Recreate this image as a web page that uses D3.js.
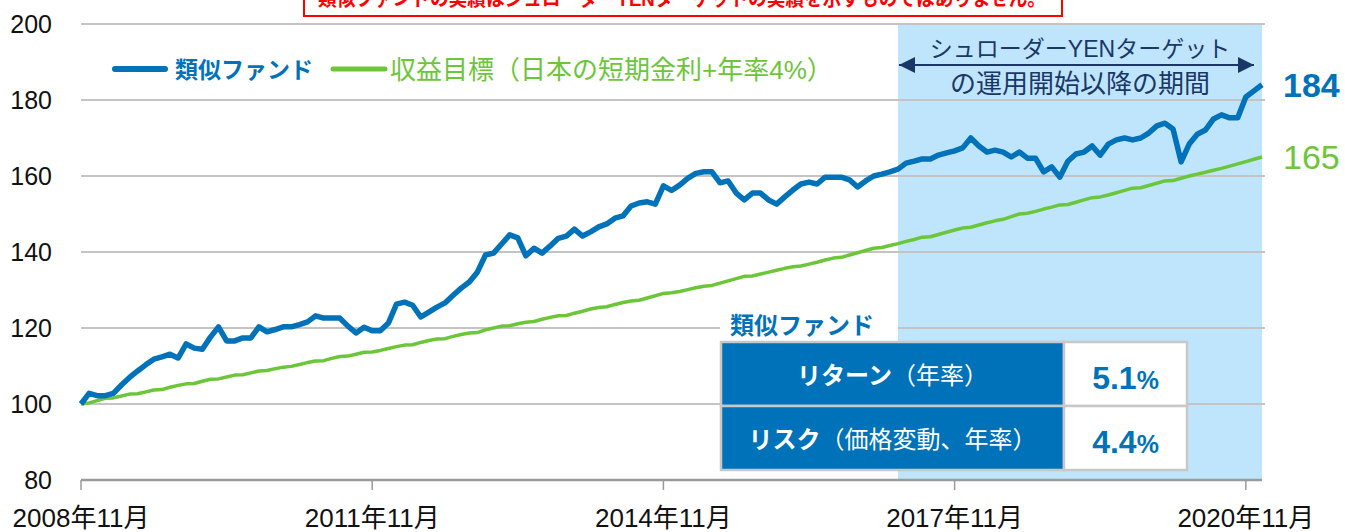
<!DOCTYPE html>
<html>
<head>
<meta charset="utf-8">
<script src="https://cdn.jsdelivr.net/npm/d3@7"></script>
<style>
body { margin: 0; background: #fff; }
svg { display: block; font-family: "Liberation Sans", Arial, "Noto Sans CJK JP", sans-serif; }
</style>
</head>
<body>
<svg id="chart" width="1345" height="532"></svg>
<script>
// monthly index values, 2008年11月 = 100
const fundValues = [
  100, 102.8, 102.2, 102.2, 102.8, 105, 107, 108.7, 110.3, 111.8, 112.4, 113.1,
  112.1, 115.8, 114.7, 114.4, 117.6, 120.3, 116.6, 116.6, 117.4, 117.4, 120.3, 119,
  119.6, 120.3, 120.3, 120.9, 121.6, 123.2, 122.6, 122.6, 122.6, 120.5, 118.7, 120.2,
  119.3, 119.3, 121.3, 126.3, 126.8, 126, 122.9, 124.2, 125.5, 126.6, 128.6, 130.5,
  132.1, 134.7, 139.2, 139.7, 142.1, 144.5, 143.7, 139, 141, 139.7, 141.6, 143.6,
  144.2, 146, 144.2, 145.3, 146.6, 147.4, 148.9, 149.5, 152.1, 152.9, 153.2, 152.6,
  157.4, 156.2, 157.6, 159.4, 160.7, 161.1, 161.1, 158.2, 158.7, 155.5, 153.7, 155.5,
  155.5, 153.7, 152.6, 154.5, 156.3, 157.9, 158.4, 157.9, 159.7, 159.7, 159.7, 159,
  157.1, 158.7, 160, 160.5, 161.1, 161.8, 163.4, 163.9, 164.5, 164.5, 165.5, 166.1,
  166.6, 167.4, 170, 167.9, 166.3, 166.8, 166.3, 165, 166.3, 164.7, 164.7, 161.1,
  162.4, 159.7, 163.9, 165.8, 166.3, 167.9, 165.5, 168.4, 169.5, 170, 169.5, 170,
  171.3, 173.2, 173.9, 172.4, 163.7, 168.4, 171, 172.1, 175, 176.1, 175.3, 175.3,
  180.8, 182.4, 184
];
const targetValues = [
  100, 100.3, 100.9, 101.5, 101.6, 102.1, 102.6, 102.7, 103.2, 103.7, 103.8, 104.4,
  104.9, 105.3, 105.4, 106, 106.5, 106.6, 107.1, 107.6, 107.7, 108.2, 108.7, 108.8,
  109.3, 109.7, 109.9, 110.4, 110.9, 111.3, 111.4, 112, 112.5, 112.6, 113.1, 113.6,
  113.7, 114.1, 114.6, 115.1, 115.5, 115.6, 116.2, 116.7, 117.1, 117.2, 117.8, 118.3,
  118.7, 118.8, 119.5, 120, 120.5, 120.6, 121.1, 121.5, 121.7, 122.3, 122.8, 123.2,
  123.3, 123.9, 124.4, 125, 125.4, 125.6, 126.2, 126.7, 127.1, 127.3, 127.9, 128.5,
  129.1, 129.3, 129.6, 130.1, 130.6, 131, 131.2, 131.8, 132.4, 133, 133.6, 133.7,
  134.2, 134.7, 135.2, 135.7, 136.1, 136.3, 136.8, 137.3, 137.9, 138.4, 138.6, 139.2,
  139.8, 140.4, 141, 141.2, 141.7, 142.2, 142.8, 143.3, 143.9, 144, 144.6, 145.2,
  145.8, 146.3, 146.5, 147.1, 147.7, 148.2, 148.6, 149.3, 150, 150.2, 150.7, 151.3,
  151.8, 152.4, 152.5, 153.1, 153.7, 154.3, 154.5, 155, 155.6, 156.2, 156.8, 156.9,
  157.5, 158.1, 158.7, 158.8, 159.4, 160, 160.5, 161, 161.5, 162, 162.6, 163.2,
  163.8, 164.4, 165
];
const tickMonths = [0, 36, 72, 108, 144];
const tickLabels = ["2008年11月", "2011年11月", "2014年11月", "2017年11月", "2020年11月"];
const yTicks = [80, 100, 120, 140, 160, 180, 200];
const shadeFromMonth = 101; // シュローダーYENターゲット運用開始
const seriesNames = ["類似ファンド", "収益目標（日本の短期金利+年率4%）"];
const statNames = [["リターン", "（年率）"], ["リスク", "（価格変動、年率）"]];
const statValues = ["5.1", "4.4"];
const noticeText = "類似ファンドの実績はシュローダーYENターゲットの実績を示すものではありません。";

const BLUE = "#0072B9", GREEN = "#6CC63A", NAVY = "#1B3768",
      SHADE = "#BFE5FC", GRID = "#C4C4C4";

const svg = d3.select("#chart");
const plot = { left: 81, right: 1262, top: 24, bottom: 480 };

const x = d3.scaleLinear()
    .domain([0, fundValues.length - 1])
    .range([plot.left, plot.right]);
const y = d3.scaleLinear()
    .domain([80, 200])
    .range([plot.bottom, plot.top]);

// shaded period
// ----------------------------------------
svg.append("rect")
    .attr("x", x(shadeFromMonth))
    .attr("y", y(200))
    .attr("width", x(fundValues.length - 1) - x(shadeFromMonth))
    .attr("height", y(80) - y(200))
    .attr("fill", SHADE);

// grid + axes
// ----------------------------------------
svg.append("g")
    .selectAll("line")
    .data(yTicks.filter(d => d > 80))
    .join("line")
    .attr("x1", plot.left)
    .attr("x2", plot.right + 3)
    .attr("y1", d => y(d))
    .attr("y2", d => y(d))
    .attr("stroke", GRID)
    .attr("stroke-width", 2);

svg.append("g")
    .selectAll("text")
    .data(yTicks)
    .join("text")
    .attr("x", 52)
    .attr("y", d => y(d) + 9)
    .attr("text-anchor", "end")
    .attr("font-size", 25)
    .attr("fill", "#111")
    .text(d => d);

svg.append("line")
    .attr("x1", plot.left).attr("x2", plot.right)
    .attr("y1", y(80)).attr("y2", y(80))
    .attr("stroke", "#9A9A9A")
    .attr("stroke-width", 2.5);

const xt = svg.append("g")
    .selectAll("g")
    .data(tickMonths)
    .join("g")
    .attr("transform", d => `translate(${x(d)},${y(80)})`);
xt.append("line")
    .attr("y2", 10)
    .attr("stroke", "#9A9A9A")
    .attr("stroke-width", 1.5);
xt.append("text")
    .attr("y", 47)
    .attr("text-anchor", "middle")
    .attr("font-size", 26)
    .attr("fill", "#111")
    .text((d, i) => tickLabels[i]);

// lines
// ----------------------------------------
const line = d3.line()
    .x((d, i) => x(i))
    .y(d => y(d));

svg.append("path")
    .datum(targetValues)
    .attr("fill", "none")
    .attr("stroke", GREEN)
    .attr("stroke-width", 3.5)
    .attr("stroke-linejoin", "round")
    .attr("d", line);

svg.append("path")
    .datum(fundValues)
    .attr("fill", "none")
    .attr("stroke", BLUE)
    .attr("stroke-width", 5.5)
    .attr("stroke-linejoin", "round")
    .attr("d", line);

// end labels
const last = fundValues.length - 1;
svg.append("text")
    .attr("x", 1283).attr("y", y(fundValues[last]) + 12)
    .attr("font-size", 34).attr("font-weight", "bold")
    .attr("fill", BLUE)
    .text(Math.round(fundValues[last]));
svg.append("text")
    .attr("x", 1283).attr("y", y(targetValues[last]) + 12)
    .attr("font-size", 34)
    .attr("fill", GREEN)
    .text(Math.round(targetValues[last]));

// legend
// ----------------------------------------
const legend = svg.append("g").attr("transform", "translate(115,69)");
legend.append("line")
    .attr("x1", 0).attr("x2", 50)
    .attr("stroke", BLUE).attr("stroke-width", 6)
    .attr("stroke-linecap", "round");
legend.append("text")
    .attr("x", 60).attr("y", 9)
    .attr("font-size", 23).attr("font-weight", "bold")
    .attr("fill", BLUE)
    .text(seriesNames[0]);
legend.append("line")
    .attr("x1", 218).attr("x2", 270)
    .attr("stroke", GREEN).attr("stroke-width", 5)
    .attr("stroke-linecap", "round");
legend.append("text")
    .attr("x", 275).attr("y", 10)
    .attr("font-size", 26)
    .attr("fill", GREEN)
    .text(seriesNames[1]);

// period annotation
// ----------------------------------------
svg.append("defs").selectAll("marker")
    .data(["arrowEnd", "arrowStart"])
    .join("marker")
    .attr("id", d => d)
    .attr("viewBox", "0 0 10 10")
    .attr("refX", 10).attr("refY", 5)
    .attr("markerWidth", 16).attr("markerHeight", 16)
    .attr("markerUnits", "userSpaceOnUse")
    .attr("orient", d => d === "arrowEnd" ? "auto" : "auto-start-reverse")
    .append("path")
    .attr("d", "M0,0L10,5L0,10Z")
    .attr("fill", NAVY);

const annX = (x(shadeFromMonth) + x(last)) / 2;
svg.append("line")
    .attr("x1", x(shadeFromMonth) + 1).attr("x2", x(last) - 8)
    .attr("y1", 65).attr("y2", 65)
    .attr("stroke", NAVY).attr("stroke-width", 2)
    .attr("marker-start", "url(#arrowStart)")
    .attr("marker-end", "url(#arrowEnd)");
svg.append("rect")
    .attr("x", annX - 145).attr("y", 36)
    .attr("width", 290).attr("height", 24)
    .attr("fill", SHADE);
svg.append("text")
    .attr("x", annX).attr("y", 57)
    .attr("text-anchor", "middle")
    .attr("font-size", 23).attr("fill", NAVY)
    .text("シュローダーYENターゲット");
svg.append("text")
    .attr("x", annX).attr("y", 93)
    .attr("text-anchor", "middle")
    .attr("font-size", 26).attr("fill", NAVY)
    .text("の運用開始以降の期間");

// stats table
// ----------------------------------------
const tbl = { x: 721, y: 342, w1: 343, w2: 123, rowH: 64 };
svg.append("rect")
    .attr("x", tbl.x - 1).attr("y", 311)
    .attr("width", x(shadeFromMonth) - tbl.x + 1).attr("height", 30)
    .attr("fill", "#fff");
svg.append("text")
    .attr("x", 730).attr("y", 334)
    .attr("font-size", 24).attr("font-weight", "bold")
    .attr("fill", BLUE)
    .text(seriesNames[0]);

const rows = svg.append("g")
    .selectAll("g")
    .data(statNames)
    .join("g")
    .attr("transform", (d, i) => `translate(${tbl.x},${tbl.y + i * tbl.rowH})`);
rows.append("rect")
    .attr("width", tbl.w1).attr("height", tbl.rowH)
    .attr("fill", BLUE)
    .attr("stroke", "#C8C8C8").attr("stroke-width", 2.5);
rows.append("rect")
    .attr("x", tbl.w1)
    .attr("width", tbl.w2).attr("height", tbl.rowH)
    .attr("fill", "#fff")
    .attr("stroke", "#C8C8C8").attr("stroke-width", 2.5);
const lbl = rows.append("text")
    .attr("x", tbl.w1 / 2).attr("y", 42)
    .attr("text-anchor", "middle")
    .attr("font-size", 24)
    .attr("fill", "#fff");
lbl.append("tspan").attr("font-weight", "bold").text(d => d[0]);
lbl.append("tspan").text(d => d[1]);
const val = rows.append("text")
    .attr("x", tbl.w1 + tbl.w2 / 2).attr("y", 47)
    .attr("text-anchor", "middle")
    .attr("font-weight", "bold")
    .attr("fill", BLUE);
val.append("tspan").attr("font-size", 32).text((d, i) => statValues[i]);
val.append("tspan").attr("font-size", 25).text("%");

// notice banner (clipped at top)
// ----------------------------------------
svg.append("rect")
    .attr("x", 304).attr("y", -10)
    .attr("width", 758).attr("height", 26)
    .attr("fill", "#fff")
    .attr("stroke", "#FF0000").attr("stroke-width", 2);
svg.append("text")
    .attr("x", 318).attr("y", 6)
    .attr("font-size", 20).attr("font-weight", "bold")
    .attr("fill", "#FF0000")
    .attr("textLength", 728)
    .attr("lengthAdjust", "spacingAndGlyphs")
    .text(noticeText);
</script>
</body>
</html>
